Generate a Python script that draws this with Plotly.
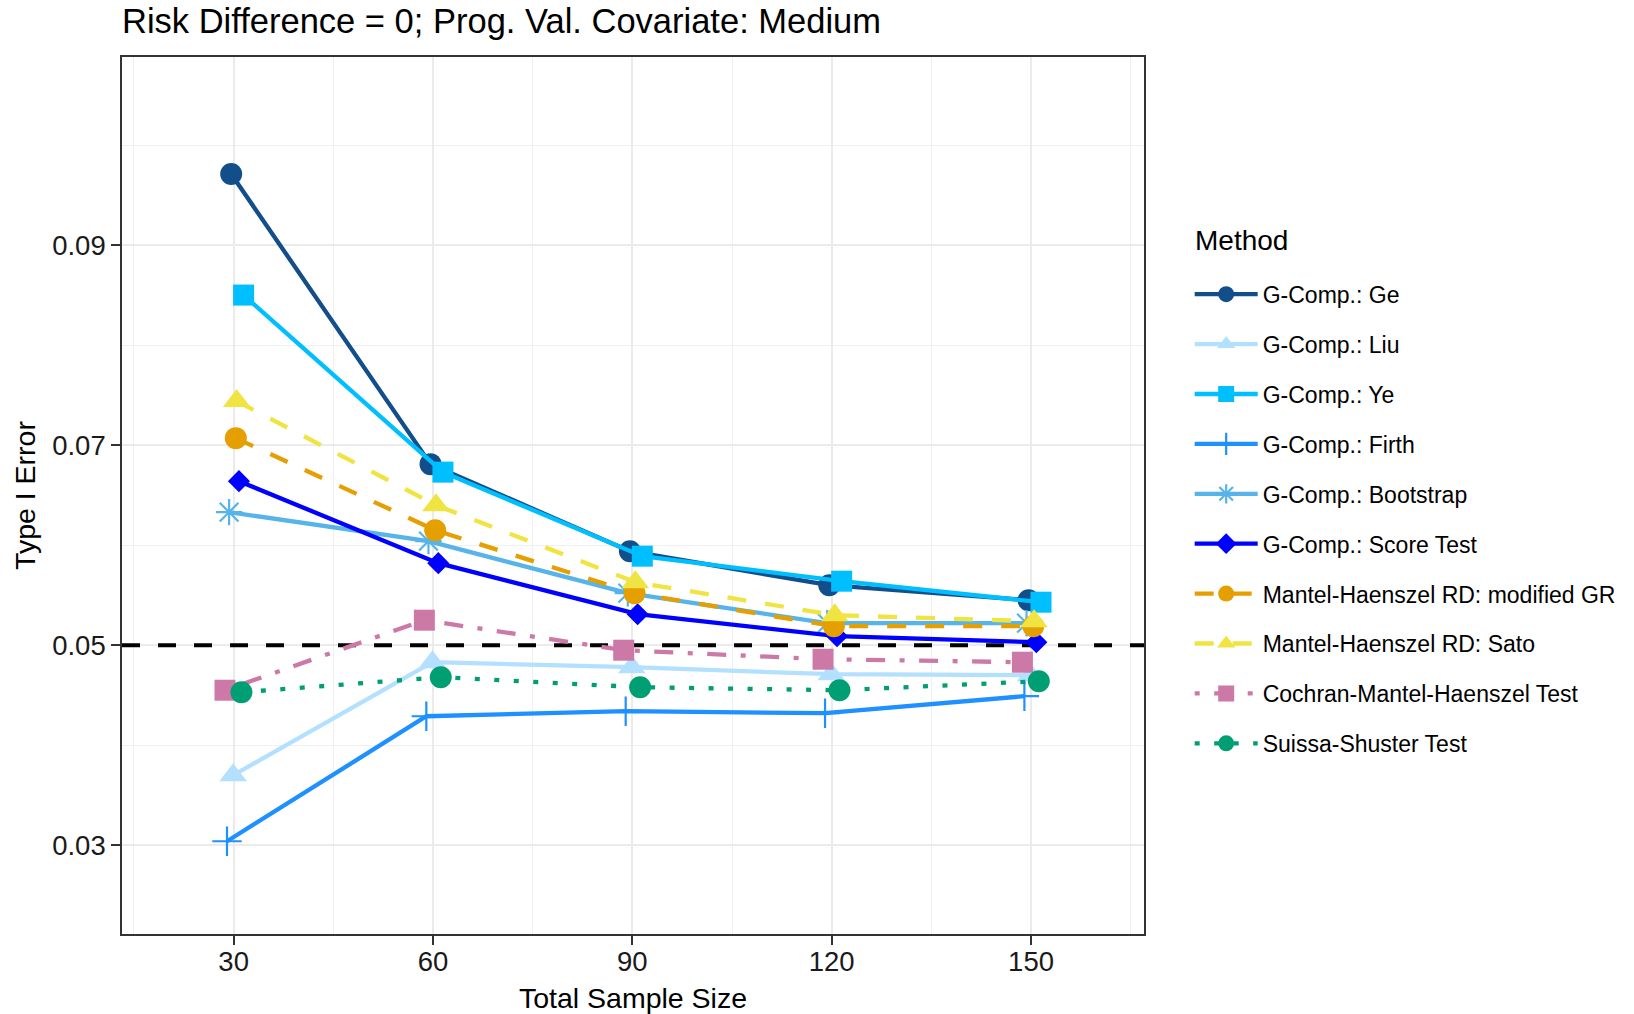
import plotly.graph_objects as go

# ---------------- data ----------------
sample_sizes = [30, 60, 90, 120, 150]

methods = [
    "G-Comp.: Ge",
    "G-Comp.: Liu",
    "G-Comp.: Ye",
    "G-Comp.: Firth",
    "G-Comp.: Bootstrap",
    "G-Comp.: Score Test",
    "Mantel-Haenszel RD: modified GR",
    "Mantel-Haenszel RD: Sato",
    "Cochran-Mantel-Haenszel Test",
    "Suissa-Shuster Test",
]

gcomp_ge = [0.0971, 0.0681, 0.0594, 0.0560, 0.0545]
gcomp_liu = [0.0370, 0.0483, 0.0478, 0.0471, 0.0470]
gcomp_ye = [0.0850, 0.0673, 0.0589, 0.0564, 0.0543]
gcomp_firth = [0.0304, 0.0429, 0.0434, 0.0432, 0.0449]
gcomp_bootstrap = [0.0633, 0.0604, 0.0552, 0.0522, 0.0522]
gcomp_score = [0.0664, 0.0582, 0.0531, 0.0509, 0.0503]
mh_gr = [0.0707, 0.0615, 0.0552, 0.0519, 0.0519]
mh_sato = [0.0744, 0.0640, 0.0563, 0.0530, 0.0524]
cmh_test = [0.0455, 0.0525, 0.0495, 0.0486, 0.0483]
ss_test = [0.0453, 0.0468, 0.0458, 0.0455, 0.0464]

series = [gcomp_ge, gcomp_liu, gcomp_ye, gcomp_firth, gcomp_bootstrap,
          gcomp_score, mh_gr, mh_sato, cmh_test, ss_test]

nominal_level = 0.05
x_range = [13.2, 167.0]
y_range = [0.02113, 0.1088]

# ---------------- styles ----------------
colors = ["#124E8A", "#B3E0FF", "#00BFFF", "#1E90FF", "#56B4E9",
          "#0000FF", "#E69F00", "#F0E442", "#CC79A7", "#009E73"]
symbols = ["circle", "triangle-up", "square", "cross-thin-open", "asterisk-open",
           "diamond", "circle", "triangle-up", "square", "circle"]
msizes = [22, 24, 21, 21, 22, 17, 22, 24, 21, 22]
dashed = "19px,19px"
dotted = "5px,14.5px"
dotdash = "5px,14.5px,19px,14.5px"
dashes = ["solid", "solid", "solid", "solid", "solid", "solid",
          dashed, dashed, dotdash, dotted]
dodge = [-0.37, -0.08, 1.5, -1.0, -0.68, 0.8, 0.33, 0.45, -1.3, 1.17]

FONT = "Liberation Sans, Arial, Helvetica, sans-serif"

fig = go.Figure()

# reference line at the nominal level (drawn under the data)
fig.add_trace(go.Scatter(
    x=x_range, y=[nominal_level, nominal_level], mode="lines",
    line=dict(color="black", width=4, dash="18px,18px"),
    showlegend=False, hoverinfo="skip", cliponaxis=False,
))

for i, (name, vals) in enumerate(zip(methods, series)):
    xs = [s + dodge[i] for s in sample_sizes]
    open_sym = symbols[i].endswith("open")
    fig.add_trace(go.Scatter(
        x=xs, y=vals, name=name, mode="lines+markers",
        legendgroup=name,
        line=dict(color=colors[i], width=4.3, dash=dashes[i]),
        marker=dict(symbol=symbols[i], size=msizes[i], color=colors[i],
                    line=dict(width=2.2 if open_sym else 0, color=colors[i])),
    ))

axis_common = dict(
    showline=True, mirror=True, linecolor="#333333", linewidth=1.6,
    ticks="outside", ticklen=9, tickwidth=2, tickcolor="#333333",
    showgrid=True, gridcolor="#EBEBEB", gridwidth=2,
    zeroline=False, automargin=False,
    tickfont=dict(family=FONT, size=27.5, color="#1A1A1A"),
)

fig.update_layout(
    width=1634, height=1014,
    margin=dict(l=122, r=490, t=57, b=80),
    plot_bgcolor="white", paper_bgcolor="white",
    font=dict(family=FONT, color="black"),
    title=dict(text="Risk Difference = 0; Prog. Val. Covariate: Medium",
               font=dict(family=FONT, size=34.5, color="black"),
               xref="paper", x=0, xanchor="left",
               yref="container", y=1 - 21 / 1014, yanchor="middle"),
    xaxis=dict(range=x_range, tick0=0, dtick=30, ticklabelstandoff=-7,
               minor=dict(dtick=15, showgrid=True, gridcolor="#F0F0F0", gridwidth=1.2, ticklen=0),
               title=dict(text="Total Sample Size", standoff=13,
                          font=dict(family=FONT, size=28.5, color="black")),
               **axis_common),
    yaxis=dict(range=y_range, tickvals=[0.03, 0.05, 0.07, 0.09],
               tickformat=".2f",
               minor=dict(tickvals=[0.04, 0.06, 0.08, 0.10], showgrid=True,
                          gridcolor="#F0F0F0", gridwidth=1.2, ticklen=0),
               title=dict(text="Type I Error", standoff=8,
                          font=dict(family=FONT, size=28.5, color="black")),
               **axis_common),
    legend=dict(
        font=dict(family=FONT, size=23, color="black"),
        x=1.0447, xanchor="left", y=0.754, yanchor="top",
        tracegroupgap=17, itemwidth=63,
        bgcolor="rgba(0,0,0,0)",
    ),
    annotations=[dict(
        text="Method", xref="paper", yref="paper",
        x=(1193 - 122) / 1022.3, y=1 - (240 - 57) / 876.7,
        xanchor="left", yanchor="middle", showarrow=False,
        font=dict(family=FONT, size=28, color="black"),
    )],
)

# remove the browser's default page margin so the figure sits at the window origin
fig.write_html("out.html", config={"displayModeBar": False},
               post_script="document.body.style.margin='0px';")
